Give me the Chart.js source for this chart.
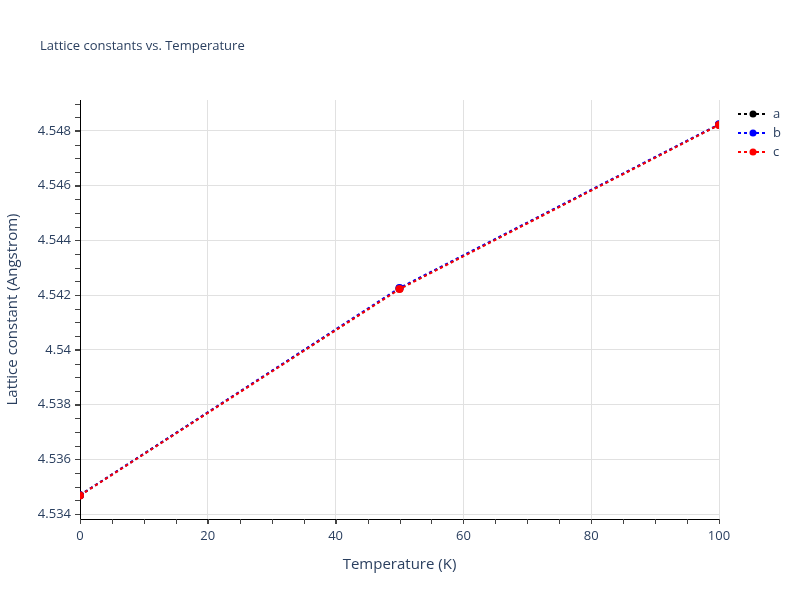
<!DOCTYPE html>
<html>
<head>
<meta charset="utf-8">
<script src="https://cdn.jsdelivr.net/npm/chart.js@4/dist/chart.umd.min.js"></script>
<style>
  html, body { margin: 0; padding: 0; background: #fff; }
  #wrap { width: 800px; height: 600px; position: relative; }
</style>
</head>
<body>
<div id="wrap"><canvas id="latChart" width="800" height="600"></canvas></div>
<script>
// temperatures (K)
const temps = [0, 50, 100];
// lattice constants (Angstrom)
const aVals = [4.53469, 4.54224, 4.54823];
const bVals = [4.53469, 4.54226, 4.54824];
const cVals = [4.53468, 4.54222, 4.54822];

const yTicks = [4.534, 4.536, 4.538, 4.54, 4.542, 4.544, 4.546, 4.548];
const yTickLabels = ['4.534', '4.536', '4.538', '4.54', '4.542', '4.544', '4.546', '4.548'];
const xTicks = [0, 20, 40, 60, 80, 100];

const textColor = '#2a3f5f';
const fontFamily = '"Open Sans", verdana, arial, sans-serif';

function pts(vals) {
    return temps.map(function(t, i) { return { x: t, y: vals[i] }; });
}

// lower "order" is drawn on top, so c sits above b above a
function series(label, vals, color, order) {
    return {
        label: label,
        data: pts(vals),
        order: order,
        borderColor: color,
        backgroundColor: color,
        borderWidth: 2,
        borderDash: [3, 3],
        pointRadius: 4,
        pointHoverRadius: 4,
        pointBorderWidth: 0,
        fill: false,
        tension: 0
    };
}

// title, minor ticks and legend drawn on the canvas
const extras = {
    id: 'extras',
    afterDraw: function(chart) {
        const ctx = chart.ctx;
        const xs = chart.scales.x;
        const ys = chart.scales.y;
        const area = chart.chartArea;
        ctx.save();

        // minor ticks
        ctx.strokeStyle = '#444';
        ctx.lineWidth = 1;
        ctx.beginPath();
        for (let v = 4.5340; v <= 4.5491; v += 0.0005) {
            const py = Math.round(ys.getPixelForValue(v)) + 0.5;
            if (py < area.top || py > area.bottom) continue;
            ctx.moveTo(area.left - 5, py);
            ctx.lineTo(area.left, py);
        }
        for (let v = 0; v <= 100; v += 5) {
            const px = Math.round(xs.getPixelForValue(v)) + 0.5;
            ctx.moveTo(px, area.bottom);
            ctx.lineTo(px, area.bottom + 5);
        }
        ctx.stroke();

        // title
        ctx.fillStyle = textColor;
        ctx.font = '13px ' + fontFamily;
        ctx.textAlign = 'left';
        ctx.textBaseline = 'middle';
        ctx.fillText('Lattice constants vs. Temperature', 40, 46);

        // legend
        const items = chart.data.datasets;
        items.forEach(function(ds, i) {
            const y = 114 + i * 19;
            ctx.strokeStyle = ds.borderColor;
            ctx.lineWidth = 2;
            ctx.setLineDash([3, 3]);
            ctx.beginPath();
            ctx.moveTo(738, y);
            ctx.lineTo(768, y);
            ctx.stroke();
            ctx.setLineDash([]);
            ctx.fillStyle = ds.borderColor;
            ctx.beginPath();
            ctx.arc(753, y, 3.5, 0, Math.PI * 2);
            ctx.fill();
            ctx.fillStyle = textColor;
            ctx.font = '13px ' + fontFamily;
            ctx.fillText(ds.label, 773, y);
        });
        ctx.restore();
    }
};

document.addEventListener('DOMContentLoaded', function() {
    const ctx = document.getElementById('latChart').getContext('2d');
    const latChart = new Chart(ctx, {
        type: 'line',
        data: {
            datasets: [
                series('a', aVals, '#000000', 2),
                series('b', bVals, '#0000ff', 1),
                series('c', cVals, '#ff0000', 0)
            ]
        },
        options: {
            responsive: false,
            animation: false,
            layout: { padding: { left: 0, right: 81, top: 100, bottom: 22 } },
            plugins: {
                legend: { display: false },
                title: { display: false },
                tooltip: { enabled: false }
            },
            scales: {
                x: {
                    type: 'linear',
                    min: 0,
                    max: 100,
                    afterBuildTicks: function(scale) {
                        scale.ticks = xTicks.map(function(v) { return { value: v }; });
                    },
                    afterFit: function(scale) { scale.height = 59; },
                    grid: {
                        color: '#e1e1e1',
                        lineWidth: 1,
                        tickColor: '#444',
                        tickLength: 5
                    },
                    border: { display: true, color: '#000', width: 1 },
                    ticks: {
                        color: textColor,
                        font: { family: fontFamily, size: 13 },
                        padding: 4,
                        maxRotation: 0
                    },
                    title: {
                        display: true,
                        text: 'Temperature (K)',
                        color: textColor,
                        font: { family: fontFamily, size: 15 },
                        padding: { top: 8 }
                    }
                },
                y: {
                    type: 'linear',
                    min: 4.53382,
                    max: 4.54913,
                    afterBuildTicks: function(scale) {
                        scale.ticks = yTicks.map(function(v) { return { value: v }; });
                    },
                    afterFit: function(scale) { scale.width = 80; },
                    grid: {
                        color: '#e1e1e1',
                        lineWidth: 1,
                        tickColor: '#444',
                        tickLength: 5
                    },
                    border: { display: true, color: '#000', width: 1 },
                    ticks: {
                        color: textColor,
                        font: { family: fontFamily, size: 13 },
                        padding: 4,
                        callback: function(value, index) { return yTickLabels[index]; }
                    },
                    title: {
                        display: true,
                        text: 'Lattice constant (Angstrom)',
                        color: textColor,
                        font: { family: fontFamily, size: 15 }
                    }
                }
            }
        },
        plugins: [extras]
    });
});
</script>
</body>
</html>
